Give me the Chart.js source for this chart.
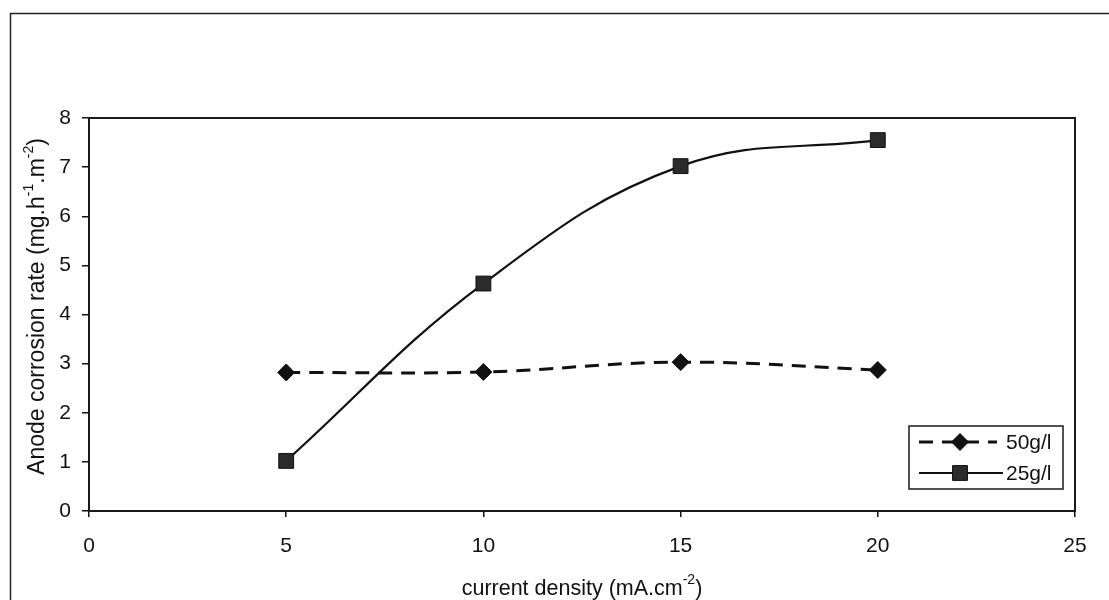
<!DOCTYPE html>
<html>
<head>
<meta charset="utf-8">
<script src="https://cdn.jsdelivr.net/npm/chart.js@4.4.1/dist/chart.umd.min.js"></script>
<style>
  html, body { margin: 0; padding: 0; background: #ffffff; }
  #wrap { width: 1109px; height: 600px; position: relative; }
</style>
</head>
<body>
<div id="wrap"><canvas id="c" width="1109" height="600"></canvas></div>
<script>
// Current density (mA.cm-2)
const currentDensity = [5, 10, 15, 20];
// Anode corrosion rate (mg.h-1.m-2) for each electrolyte concentration
const rate50 = [2.82, 2.83, 3.03, 2.87];
const rate25 = [1.02, 4.63, 7.02, 7.55];
const seriesNames = ['50g/l', '25g/l'];
const xTicks = [0, 5, 10, 15, 20, 25];
const yTicks = [0, 1, 2, 3, 4, 5, 6, 7, 8];

const FONT = '"Liberation Sans", Arial, sans-serif';
const INK = '#111111';

function pts(xs, ys) { return xs.map((x, i) => ({ x: x, y: ys[i] })); }

// Draws a run of text pieces; odd pieces are raised, smaller superscripts
function drawRich(ctx, parts, cx, cy, size) {
  const big = size + 'px ' + FONT, small = Math.round(size * 0.63) + 'px ' + FONT;
  const rise = Math.round(size * 0.4);
  const widths = parts.map((p, i) => { ctx.font = (i % 2) ? small : big; return ctx.measureText(p).width; });
  const total = widths.reduce((a, b) => a + b, 0);
  let x = cx - total / 2;
  ctx.textBaseline = 'middle'; ctx.textAlign = 'left'; ctx.fillStyle = INK;
  parts.forEach((p, i) => {
    ctx.font = (i % 2) ? small : big;
    ctx.fillText(p, x, (i % 2) ? cy - rise : cy);
    x += widths[i];
  });
}

const decor = {
  id: 'decor',
  beforeDraw(chart) {
    const ctx = chart.ctx;
    ctx.save();
    ctx.fillStyle = '#ffffff';
    ctx.fillRect(0, 0, chart.width, chart.height);
    // outer frame (top and left edges visible)
    ctx.strokeStyle = '#222';
    ctx.lineWidth = 1.5;
    ctx.beginPath();
    ctx.moveTo(10.5, 640);
    ctx.lineTo(10.5, 13.5);
    ctx.lineTo(1120, 13.5);
    ctx.stroke();
    ctx.restore();
  },
  afterDraw(chart) {
    const ctx = chart.ctx;
    const a = chart.chartArea;
    ctx.save();
    // plot area box
    ctx.strokeStyle = '#1a1a1a';
    ctx.lineWidth = 2;
    ctx.strokeRect(a.left, a.top, a.right - a.left, a.bottom - a.top);

    // axis titles
    drawRich(ctx, ['current density (mA.cm', '-2', ')'], (a.left + a.right) / 2, 589, 21.5);
    ctx.save();
    ctx.translate(38, (a.top + a.bottom) / 2 - 8);
    ctx.rotate(-Math.PI / 2);
    drawRich(ctx, ['Anode corrosion rate (mg.h', '-1', '.m', '-2', ')'], 0, 0, 23);
    ctx.restore();

    // legend box
    const lx = 909, ly = 426, lw = 154, lh = 63;
    ctx.fillStyle = '#ffffff';
    ctx.fillRect(lx, ly, lw, lh);
    ctx.strokeStyle = '#1a1a1a';
    ctx.lineWidth = 1.5;
    ctx.strokeRect(lx, ly, lw, lh);
    const rows = [ly + 16, ly + 47];
    chart.data.datasets.forEach((ds, i) => {
      const y = rows[i];
      const dashed = ds.borderDash && ds.borderDash.length;
      ctx.save();
      ctx.strokeStyle = ds.borderColor;
      ctx.lineWidth = ds.borderWidth;
      ctx.setLineDash(ds.borderDash || []);
      ctx.beginPath();
      ctx.moveTo(919, y); ctx.lineTo(dashed ? 997 : 1003, y);
      ctx.stroke();
      ctx.restore();
      // legend marker in the series' own point style
      ctx.save();
      ctx.fillStyle = ds.pointBackgroundColor;
      ctx.strokeStyle = ds.pointBorderColor;
      ctx.lineWidth = 1;
      ctx.beginPath();
      const r = ds.pointRadius;
      if (ds.pointStyle === 'rect') {
        const s = Math.SQRT1_2 * r;
        ctx.rect(960 - s, y - s, 2 * s, 2 * s);
      } else {
        ctx.moveTo(960, y - r); ctx.lineTo(960 + r, y); ctx.lineTo(960, y + r); ctx.lineTo(960 - r, y); ctx.closePath();
      }
      ctx.fill(); ctx.stroke();
      ctx.restore();
      ctx.fillStyle = INK;
      ctx.font = '21px ' + FONT;
      ctx.textAlign = 'left';
      ctx.textBaseline = 'middle';
      ctx.fillText(ds.label, 1006, y + 1);
    });
    ctx.restore();
  }
};

new Chart(document.getElementById('c'), {
  type: 'line',
  data: {
    datasets: [
      {
        label: seriesNames[0],
        data: pts(currentDensity, rate50),
        borderColor: '#111111',
        borderWidth: 3,
        borderDash: [14, 9],
        tension: 0.4,
        pointStyle: 'rectRot',
        pointRadius: 8.5,
        pointBackgroundColor: '#111111',
        pointBorderColor: '#111111',
        pointBorderWidth: 1
      },
      {
        label: seriesNames[1],
        data: pts(currentDensity, rate25),
        borderColor: '#111111',
        borderWidth: 2.2,
        tension: 0.4,
        pointStyle: 'rect',
        pointRadius: 10.5,
        pointBackgroundColor: '#2b2b2b',
        pointBorderColor: '#111111',
        pointBorderWidth: 1
      }
    ]
  },
  options: {
    responsive: false,
    animation: false,
    events: [],
    layout: { padding: { top: 118, right: 34, left: 0, bottom: 0 } },
    plugins: { legend: { display: false }, tooltip: { enabled: false } },
    scales: {
      x: {
        type: 'linear',
        min: xTicks[0],
        max: xTicks[xTicks.length - 1],
        afterBuildTicks(s) { s.ticks = xTicks.map(v => ({ value: v })); },
        afterFit(s) { s.height = 89; },
        grid: { drawOnChartArea: false, drawTicks: true, tickLength: 6, color: INK, lineWidth: 1.5 },
        border: { display: true, color: INK, width: 2 },
        ticks: { color: INK, font: { family: FONT, size: 21 }, padding: 17, maxRotation: 0 }
      },
      y: {
        type: 'linear',
        min: yTicks[0],
        max: yTicks[yTicks.length - 1],
        afterBuildTicks(s) { s.ticks = yTicks.map(v => ({ value: v })); },
        afterFit(s) { s.width = 89; },
        grid: { drawOnChartArea: false, drawTicks: true, tickLength: 7, color: INK, lineWidth: 1.5 },
        border: { display: true, color: INK, width: 2 },
        ticks: { color: INK, font: { family: FONT, size: 21 }, padding: 11 }
      }
    }
  },
  plugins: [decor]
});
</script>
</body>
</html>
